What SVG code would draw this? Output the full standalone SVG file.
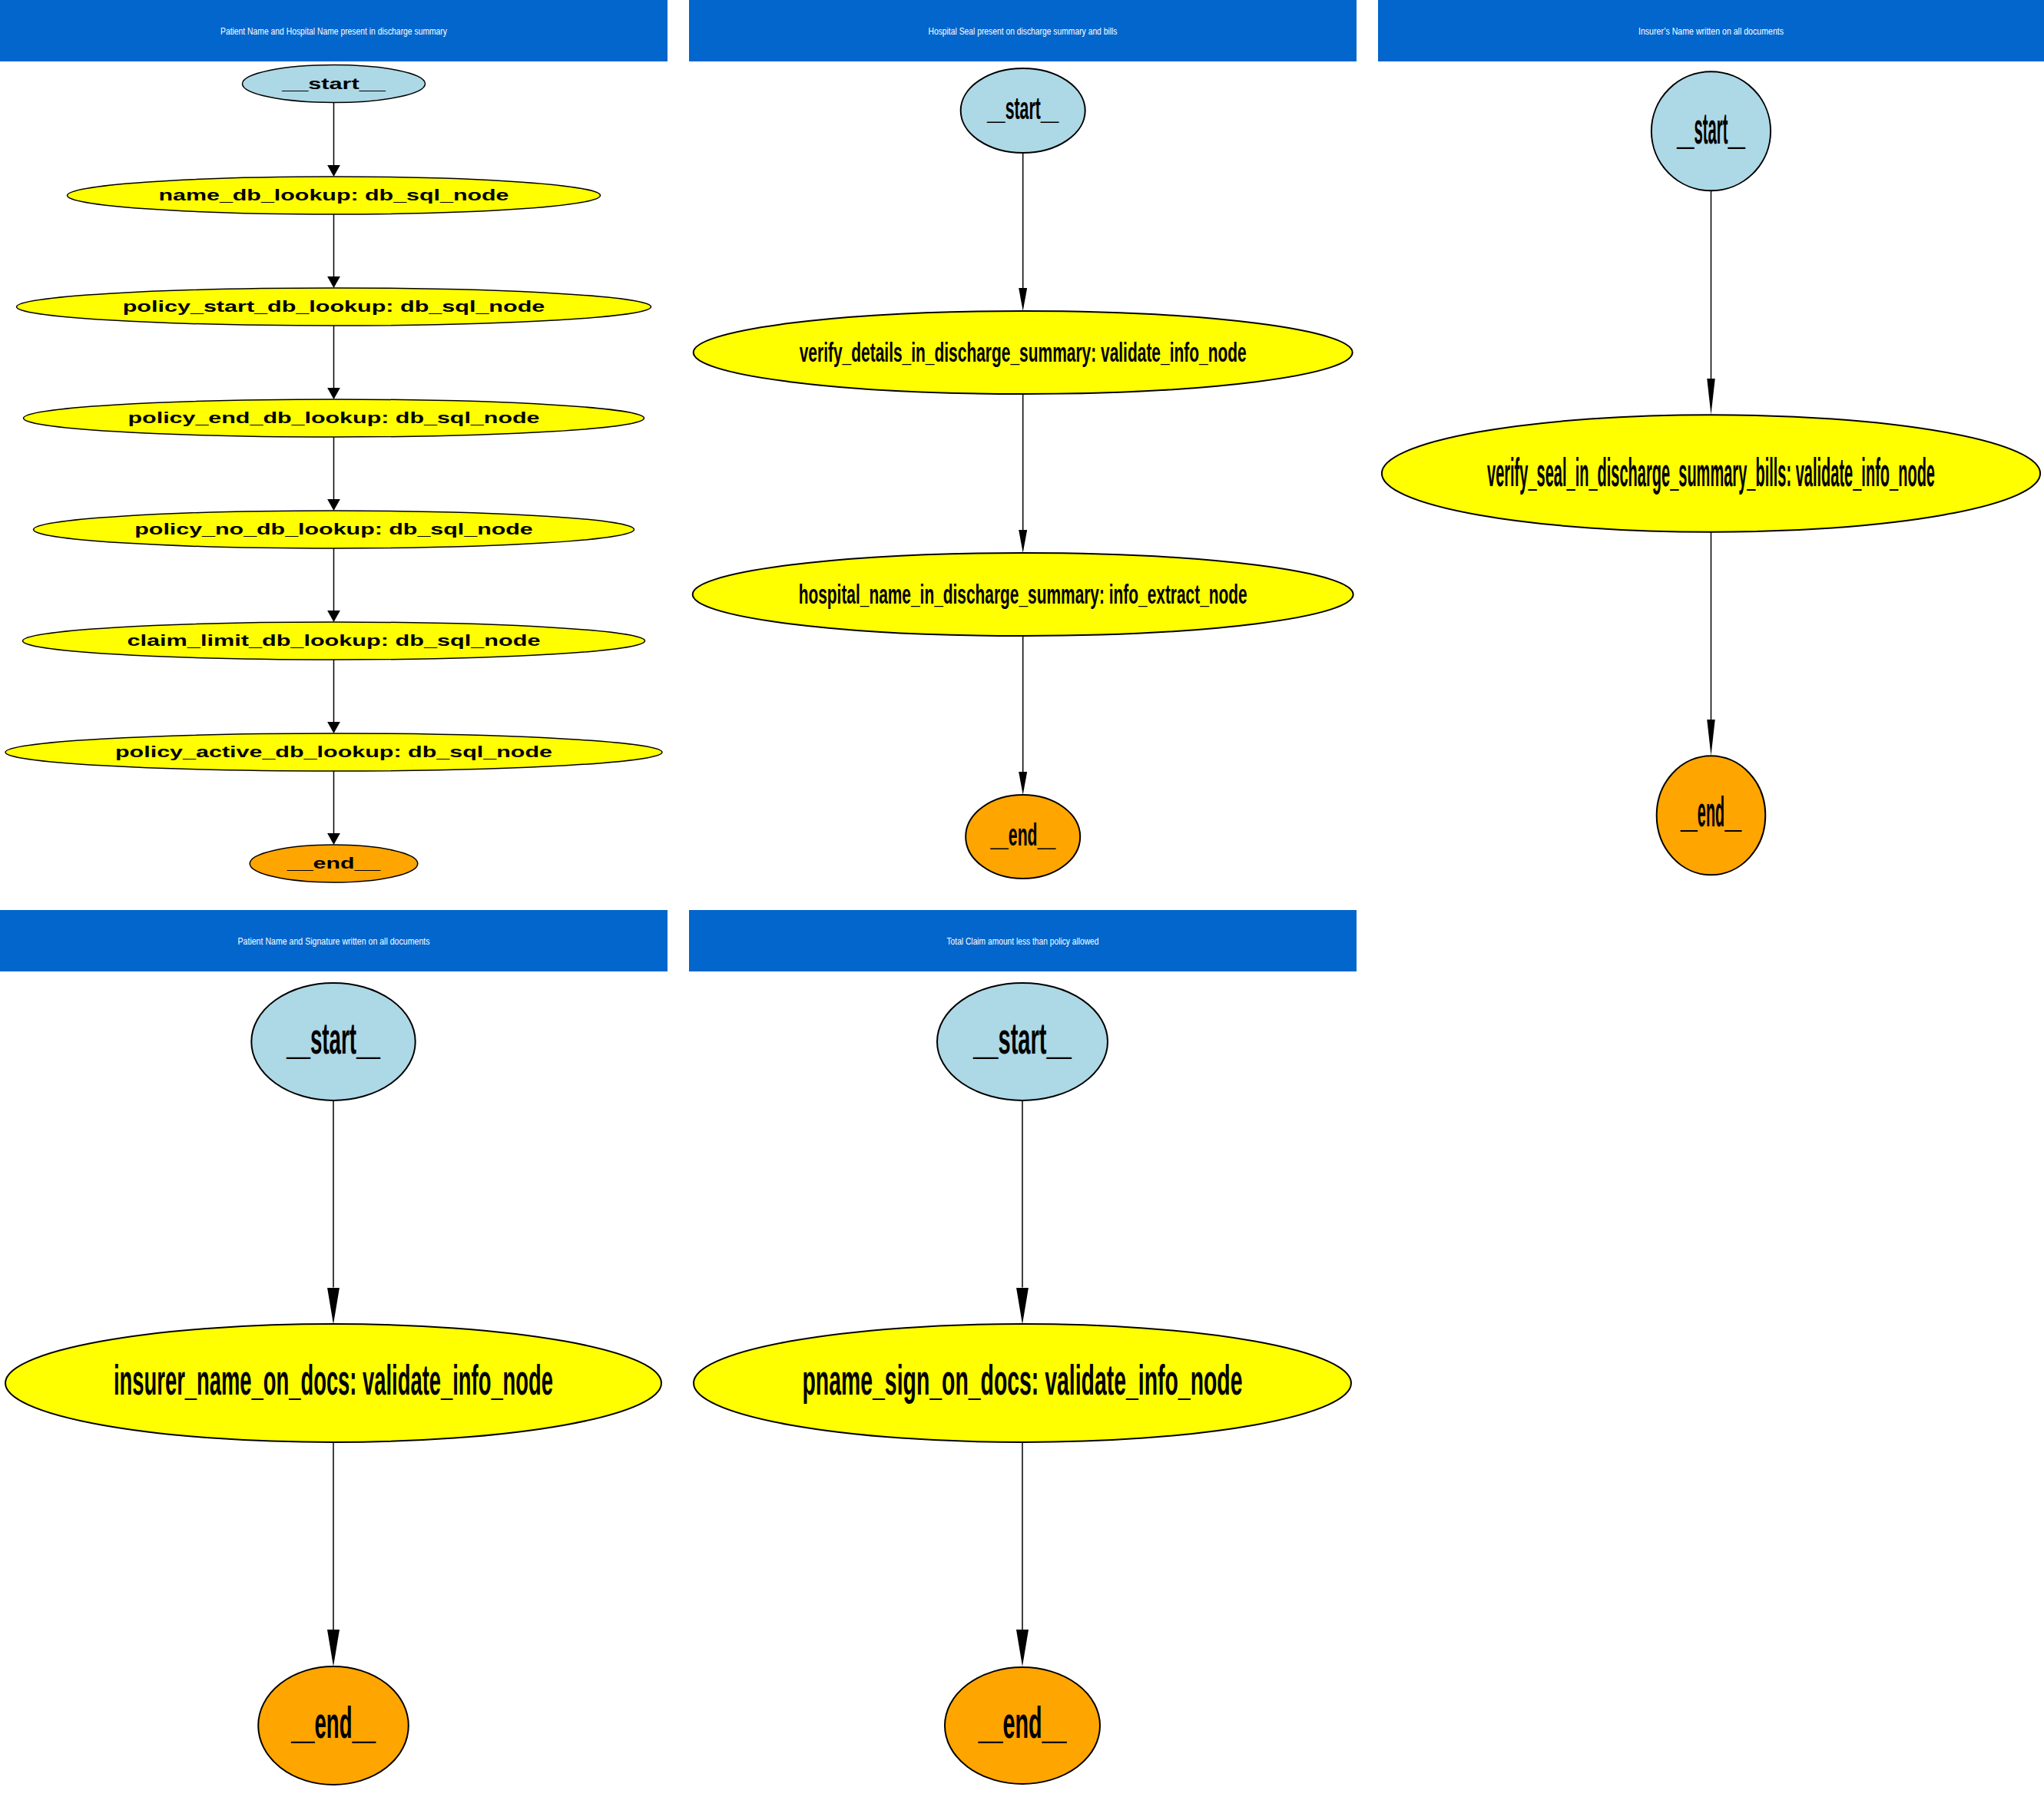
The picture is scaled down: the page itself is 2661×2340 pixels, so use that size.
<svg xmlns="http://www.w3.org/2000/svg" width="2661" height="2340" viewBox="0 0 2661 2340">
  <style>
    .hdr { fill: #0366cc; }
    .title { fill: #ffffff; font-family: "Liberation Sans", Arial, sans-serif; font-size: 12px; text-anchor: middle; }
    .start { fill: #add8e6; stroke: #000; stroke-width: 2; }
    .task { fill: #ffff00; stroke: #000; stroke-width: 2; }
    .end { fill: #ffa500; stroke: #000; stroke-width: 2; }
    .p1 ellipse { stroke-width: 1.5; }
    .lbl { fill: #000; font-family: "Liberation Sans", Arial, sans-serif; font-weight: bold; text-anchor: middle; }
    .edge { stroke: #000; stroke-width: 1.5; fill: none; }
  </style>
  <defs>
    <marker id="ah1" viewBox="0 0 15 16.7" refX="0" refY="8.35" markerWidth="15" markerHeight="16.7" markerUnits="userSpaceOnUse" orient="auto">
      <path d="M0,0 L15,8.35 L0,16.7 Z" fill="#000"/>
    </marker>
    <marker id="ah2" viewBox="0 0 30 11" refX="0" refY="5.5" markerWidth="30" markerHeight="11" markerUnits="userSpaceOnUse" orient="auto">
      <path d="M0,0 L30,5.5 L0,11 Z" fill="#000"/>
    </marker>
    <marker id="ah3" viewBox="0 0 47 10.5" refX="0" refY="5.25" markerWidth="47" markerHeight="10.5" markerUnits="userSpaceOnUse" orient="auto">
      <path d="M0,0 L47,5.25 L0,10.5 Z" fill="#000"/>
    </marker>
    <marker id="ah4" viewBox="0 0 48 16" refX="0" refY="8" markerWidth="48" markerHeight="16" markerUnits="userSpaceOnUse" orient="auto">
      <path d="M0,0 L48,8 L0,16 Z" fill="#000"/>
    </marker>
  </defs>

  <rect width="2661" height="2340" fill="#ffffff"/>

  <!-- panel headers -->
  <g id="headers">
    <rect class="hdr" x="0" y="0" width="869" height="80"/>
    <text class="title" x="434.5" y="45" textLength="295" lengthAdjust="spacingAndGlyphs">Patient Name and Hospital Name present in discharge summary</text>
    <rect class="hdr" x="897" y="0" width="869" height="80"/>
    <text class="title" x="1331.5" y="45" textLength="246" lengthAdjust="spacingAndGlyphs">Hospital Seal present on discharge summary and bills</text>
    <rect class="hdr" x="1794" y="0" width="867" height="80"/>
    <text class="title" x="2227.5" y="45" textLength="189" lengthAdjust="spacingAndGlyphs">Insurer’s Name written on all documents</text>
    <rect class="hdr" x="0" y="1185" width="869" height="80"/>
    <text class="title" x="434.5" y="1230" textLength="250" lengthAdjust="spacingAndGlyphs">Patient Name and Signature written on all documents</text>
    <rect class="hdr" x="897" y="1185" width="869" height="80"/>
    <text class="title" x="1331.5" y="1230" textLength="198" lengthAdjust="spacingAndGlyphs">Total Claim amount less than policy allowed</text>
  </g>

  <!-- connectors -->
  <g id="edges">
    <!-- panel 1 -->
    <line class="edge" x1="434.5" y1="133.5" x2="434.5" y2="215" marker-end="url(#ah1)"/>
    <line class="edge" x1="434.5" y1="279" x2="434.5" y2="360" marker-end="url(#ah1)"/>
    <line class="edge" x1="434.5" y1="424" x2="434.5" y2="505" marker-end="url(#ah1)"/>
    <line class="edge" x1="434.5" y1="569" x2="434.5" y2="650" marker-end="url(#ah1)"/>
    <line class="edge" x1="434.5" y1="714" x2="434.5" y2="795" marker-end="url(#ah1)"/>
    <line class="edge" x1="434.5" y1="859" x2="434.5" y2="940" marker-end="url(#ah1)"/>
    <line class="edge" x1="434.5" y1="1004" x2="434.5" y2="1085" marker-end="url(#ah1)"/>
    <!-- panel 2 -->
    <line class="edge" x1="1331.7" y1="199" x2="1331.7" y2="375" marker-end="url(#ah2)"/>
    <line class="edge" x1="1331.7" y1="513" x2="1331.7" y2="690" marker-end="url(#ah2)"/>
    <line class="edge" x1="1331.7" y1="828" x2="1331.7" y2="1005" marker-end="url(#ah2)"/>
    <!-- panel 3 -->
    <line class="edge" x1="2227.5" y1="248.3" x2="2227.5" y2="493" marker-end="url(#ah3)"/>
    <line class="edge" x1="2227.5" y1="692.8" x2="2227.5" y2="937" marker-end="url(#ah3)"/>
    <!-- panel 4 -->
    <line class="edge" x1="434" y1="1433" x2="434" y2="1676.5" marker-end="url(#ah4)"/>
    <line class="edge" x1="434" y1="1878" x2="434" y2="2122" marker-end="url(#ah4)"/>
    <!-- panel 5 -->
    <line class="edge" x1="1331" y1="1433" x2="1331" y2="1676.5" marker-end="url(#ah4)"/>
    <line class="edge" x1="1331" y1="1878" x2="1331" y2="2122" marker-end="url(#ah4)"/>
  </g>

  <!-- panel 1: database lookups (labels stretched wide) -->
  <g class="p1">
    <g id="p1_start">
      <ellipse class="start" cx="434.5" cy="109" rx="119" ry="24.5"/>
      <text class="lbl" x="434.5" y="116" font-size="21" textLength="134.6" lengthAdjust="spacingAndGlyphs">__start__</text>
    </g>
    <g id="p1_name_db_lookup">
      <ellipse class="task" cx="434.5" cy="254.5" rx="347" ry="24.5"/>
      <text class="lbl" x="434.5" y="261" font-size="21" textLength="456" lengthAdjust="spacingAndGlyphs">name_db_lookup: db_sql_node</text>
    </g>
    <g id="p1_policy_start_db_lookup">
      <ellipse class="task" cx="434.5" cy="399.5" rx="413" ry="24.5"/>
      <text class="lbl" x="434.5" y="406" font-size="21" textLength="549.6" lengthAdjust="spacingAndGlyphs">policy_start_db_lookup: db_sql_node</text>
    </g>
    <g id="p1_policy_end_db_lookup">
      <ellipse class="task" cx="434.5" cy="544.5" rx="404" ry="24.5"/>
      <text class="lbl" x="434.5" y="551" font-size="21" textLength="536" lengthAdjust="spacingAndGlyphs">policy_end_db_lookup: db_sql_node</text>
    </g>
    <g id="p1_policy_no_db_lookup">
      <ellipse class="task" cx="434.5" cy="689.5" rx="391" ry="24.5"/>
      <text class="lbl" x="434.5" y="696" font-size="21" textLength="518.5" lengthAdjust="spacingAndGlyphs">policy_no_db_lookup: db_sql_node</text>
    </g>
    <g id="p1_claim_limit_db_lookup">
      <ellipse class="task" cx="434.5" cy="834.5" rx="405" ry="24.5"/>
      <text class="lbl" x="434.5" y="841" font-size="21" textLength="538" lengthAdjust="spacingAndGlyphs">claim_limit_db_lookup: db_sql_node</text>
    </g>
    <g id="p1_policy_active_db_lookup">
      <ellipse class="task" cx="434.5" cy="979.5" rx="427.5" ry="24.5"/>
      <text class="lbl" x="434.5" y="986" font-size="21" textLength="569" lengthAdjust="spacingAndGlyphs">policy_active_db_lookup: db_sql_node</text>
    </g>
    <g id="p1_end">
      <ellipse class="end" cx="434.5" cy="1124.5" rx="109.3" ry="24.5"/>
      <text class="lbl" x="434.5" y="1131" font-size="21" textLength="121.3" lengthAdjust="spacingAndGlyphs">__end__</text>
    </g>
  </g>

  <!-- panel 2: hospital seal (labels drawn tall and narrow) -->
  <g class="p2">
    <g id="p2_start">
      <ellipse class="start" cx="1331.7" cy="144" rx="81" ry="55"/>
      <text class="lbl" transform="translate(1331.7 155) scale(1 1.925)" font-size="21.3" textLength="93.5" lengthAdjust="spacingAndGlyphs">__start__</text>
    </g>
    <g id="p2_verify_details">
      <ellipse class="task" cx="1331.7" cy="459" rx="429" ry="54"/>
      <text class="lbl" transform="translate(1331.7 470.5) scale(1 1.72)" font-size="20.9" textLength="582" lengthAdjust="spacingAndGlyphs">verify_details_in_discharge_summary: validate_info_node</text>
    </g>
    <g id="p2_hospital_name">
      <ellipse class="task" cx="1331.7" cy="774" rx="430" ry="54"/>
      <text class="lbl" transform="translate(1331.7 786) scale(1 1.72)" font-size="20.9" textLength="584" lengthAdjust="spacingAndGlyphs">hospital_name_in_discharge_summary: info_extract_node</text>
    </g>
    <g id="p2_end">
      <ellipse class="end" cx="1331.7" cy="1089.5" rx="74.5" ry="54.5"/>
      <text class="lbl" transform="translate(1331.7 1100.5) scale(1 1.93)" font-size="21.2" textLength="85" lengthAdjust="spacingAndGlyphs">__end__</text>
    </g>
  </g>

  <!-- panel 3: insurer name -->
  <g class="p3">
    <g id="p3_start">
      <ellipse class="start" cx="2227.5" cy="170.8" rx="77.6" ry="77.5"/>
      <text class="lbl" transform="translate(2227.5 186.7) scale(1 2.86)" font-size="20.3" textLength="89" lengthAdjust="spacingAndGlyphs">__start__</text>
    </g>
    <g id="p3_verify_seal">
      <ellipse class="task" cx="2227.5" cy="616.5" rx="428.6" ry="76.3"/>
      <text class="lbl" transform="translate(2227.5 632.6) scale(1 2.55)" font-size="20" textLength="583" lengthAdjust="spacingAndGlyphs">verify_seal_in_discharge_summary_bills: validate_info_node</text>
    </g>
    <g id="p3_end">
      <ellipse class="end" cx="2227.5" cy="1061.8" rx="70.8" ry="77.5"/>
      <text class="lbl" transform="translate(2227.5 1076) scale(1 2.83)" font-size="19.8" textLength="79.4" lengthAdjust="spacingAndGlyphs">__end__</text>
    </g>
  </g>

  <!-- panel 4: patient name and signature -->
  <g class="p4">
    <g id="p4_start">
      <ellipse class="start" cx="434" cy="1356.4" rx="106.7" ry="76.5"/>
      <text class="lbl" transform="translate(434 1371.7) scale(1 2.09)" font-size="27.8" textLength="122" lengthAdjust="spacingAndGlyphs">__start__</text>
    </g>
    <g id="p4_insurer_name_on_docs">
      <ellipse class="task" cx="434" cy="1801" rx="427" ry="77"/>
      <text class="lbl" transform="translate(434 1816.4) scale(1 2.04)" font-size="27.4" textLength="572" lengthAdjust="spacingAndGlyphs">insurer_name_on_docs: validate_info_node</text>
    </g>
    <g id="p4_end">
      <ellipse class="end" cx="434" cy="2247" rx="97.8" ry="77"/>
      <text class="lbl" transform="translate(434 2262.7) scale(1 2.07)" font-size="27.5" textLength="110" lengthAdjust="spacingAndGlyphs">__end__</text>
    </g>
  </g>

  <!-- panel 5: claim amount -->
  <g class="p5">
    <g id="p5_start">
      <ellipse class="start" cx="1331" cy="1356.4" rx="111" ry="76.5"/>
      <text class="lbl" transform="translate(1331 1371.7) scale(1 1.99)" font-size="29.1" textLength="127.8" lengthAdjust="spacingAndGlyphs">__start__</text>
    </g>
    <g id="p5_pname_sign_on_docs">
      <ellipse class="task" cx="1331" cy="1801" rx="428" ry="77"/>
      <text class="lbl" transform="translate(1331 1816.4) scale(1 1.97)" font-size="28.4" textLength="573" lengthAdjust="spacingAndGlyphs">pname_sign_on_docs: validate_info_node</text>
    </g>
    <g id="p5_end">
      <ellipse class="end" cx="1331" cy="2247" rx="101" ry="76"/>
      <text class="lbl" transform="translate(1331 2262.7) scale(1 1.99)" font-size="28.7" textLength="115" lengthAdjust="spacingAndGlyphs">__end__</text>
    </g>
  </g>
</svg>
